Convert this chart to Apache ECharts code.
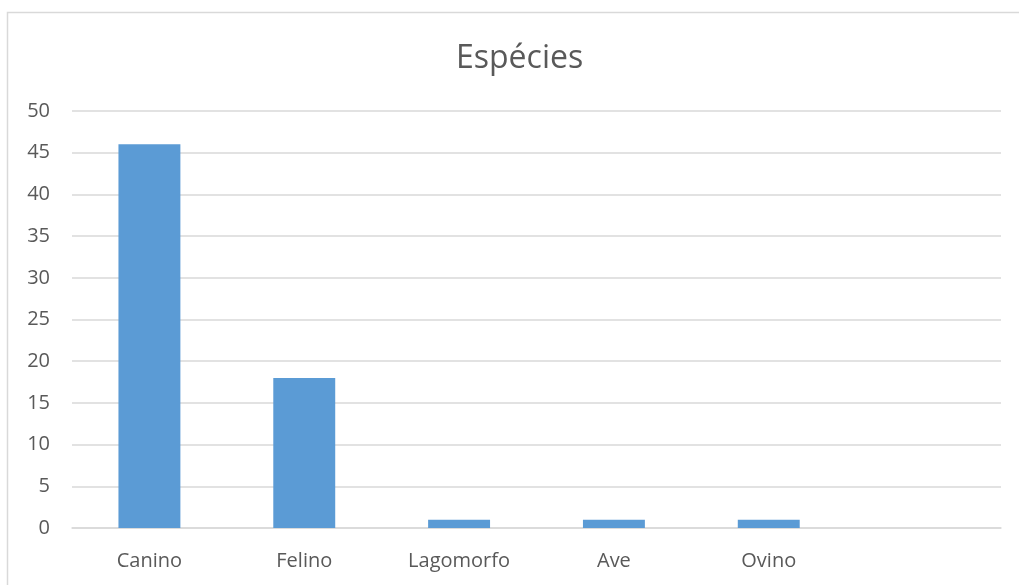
<!DOCTYPE html>
<html>
<head>
<meta charset="utf-8">
<script src="https://cdn.jsdelivr.net/npm/echarts@6/dist/echarts.min.js"></script>
<style>
  html, body { margin: 0; padding: 0; background: #ffffff; }
  #chart { width: 1019px; height: 585px; }
</style>
</head>
<body>
<div id="chart"></div>
<script>
// Species counts
const categories = ['Canino', 'Felino', 'Lagomorfo', 'Ave', 'Ovino', ''];
const counts = [46, 18, 1, 1, 1, null];
const titleText = 'Espécies';

const textColor = '#595959';
const gridColor = '#d9d9d9';
const fontFamily = '"Open Sans", "Liberation Sans", sans-serif';

const chart = echarts.init(document.getElementById('chart'));
chart.setOption({
  animation: false,
  backgroundColor: '#ffffff',
  title: {
    text: titleText,
    left: 451,
    top: 38,
    textStyle: { color: textColor, fontSize: 32, fontWeight: 'normal', fontFamily: fontFamily }
  },
  graphic: [{
    type: 'rect',
    shape: { x: 7.5, y: 12.5, width: 1100, height: 700 },
    style: { fill: 'none', stroke: gridColor, lineWidth: 1.5 },
    silent: true
  }],
  grid: { left: 72, right: 18, top: 111, bottom: 57 },
  xAxis: {
    type: 'category',
    data: categories,
    axisLine: { show: true, lineStyle: { color: gridColor, width: 1.5 } },
    axisTick: { show: false },
    axisLabel: { color: textColor, fontSize: 20, fontFamily: fontFamily, margin: 23 }
  },
  yAxis: {
    type: 'value',
    min: 0,
    max: 50,
    interval: 5,
    axisLine: { show: false },
    axisTick: { show: false },
    splitLine: { lineStyle: { color: gridColor, width: 1.5 } },
    axisLabel: { color: textColor, fontSize: 20, fontFamily: fontFamily, margin: 22 }
  },
  series: [{
    type: 'bar',
    data: counts,
    barCategoryGap: '60%',
    itemStyle: { color: '#5b9bd5' }
  }]
});
</script>
</body>
</html>
